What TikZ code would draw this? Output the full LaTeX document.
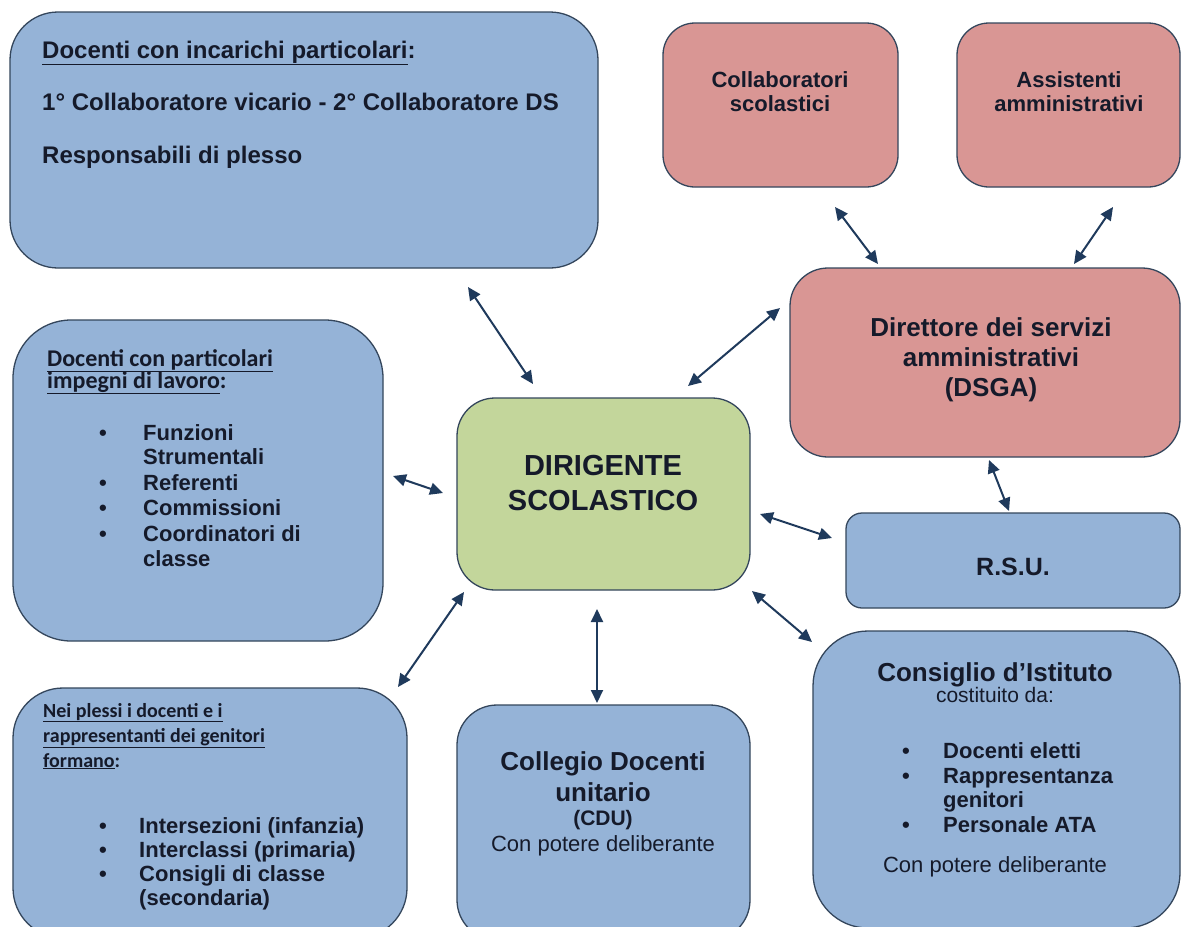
\documentclass[tikz,border=0pt]{standalone}
\usepackage{fontspec}
\setmainfont{Liberation Sans}
\newfontfamily\calib{Carlito}
\usetikzlibrary{arrows.meta}
\definecolor{bluefill}{HTML}{95B3D7}
\definecolor{pinkfill}{HTML}{D99694}
\definecolor{greenfill}{HTML}{C3D69B}
\definecolor{boxline}{HTML}{34465C}
\definecolor{arrowcol}{HTML}{1F3A5C}
\definecolor{txtcol}{HTML}{151A2A}
\newcommand\fs[1]{\fontsize{#1}{#1}\selectfont}
\tikzset{
  box/.style={draw=boxline, line width=1.3pt, anchor=north west, inner sep=0pt, outer sep=0pt},
  bluebox/.style={box, fill=bluefill},
  pinkbox/.style={box, fill=pinkfill},
  greenbox/.style={box, fill=greenfill},
  txt/.style={inner sep=0pt, anchor=base west, text=txtcol},
  ctxt/.style={inner sep=0pt, anchor=base, text=txtcol},
  link/.style={draw=arrowcol, line width=2pt,
    {Triangle[length=13pt,width=12pt]}-{Triangle[length=13pt,width=12pt]}}
}
\begin{document}
\begin{tikzpicture}[x=1pt,y=-1pt]
\useasboundingbox (0,0) rectangle (1182,926);
\clip (0,0) rectangle (1182,926);
\fill[white] (0,0) rectangle (1182,926);

% boxes
\node[bluebox, rounded corners=48pt, minimum width=588pt, minimum height=256pt] (b1) at (10,12) {};
\node[pinkbox, rounded corners=32pt, minimum width=235pt, minimum height=164pt] (coll) at (663,23) {};
\node[pinkbox, rounded corners=32pt, minimum width=223pt, minimum height=164pt] (assi) at (957,23) {};
\node[pinkbox, rounded corners=38pt, minimum width=390pt, minimum height=189pt] (dsga) at (790,268) {};
\node[bluebox, rounded corners=58pt, minimum width=370pt, minimum height=321pt] (dpart) at (13,320) {};
\node[greenbox, rounded corners=38pt, minimum width=293pt, minimum height=192pt] (dir) at (457,398) {};
\node[bluebox, rounded corners=16pt, minimum width=334pt, minimum height=95pt] (rsu) at (846,513) {};
\node[bluebox, rounded corners=50pt, minimum width=394pt, minimum height=250pt] (plessi) at (13,688) {};
\node[bluebox, rounded corners=40pt, minimum width=293pt, minimum height=235pt] (cdu) at (457,705) {};
\node[bluebox, rounded corners=55pt, minimum width=367pt, minimum height=297pt] (cdi) at (813,631) {};

% top-left box texts
\node[txt, font=\bfseries\fs{24}] (b1t1) at (42,58) {\underline{Docenti con incarichi particolari}:};
\node[txt, font=\bfseries\fs{24}] (b1t2) at (42,110) {1° Collaboratore vicario - 2° Collaboratore DS};
\node[txt, font=\bfseries\fs{24}] (b1t3) at (42,163) {Responsabili di plesso};

% pink boxes texts
\node[ctxt, font=\bfseries\fs{22}] (collt1) at (780,87) {Collaboratori};
\node[ctxt, font=\bfseries\fs{22}] (collt2) at (780,111) {scolastici};
\node[ctxt, font=\bfseries\fs{22}] (assit1) at (1069,87) {Assistenti};
\node[ctxt, font=\bfseries\fs{22}] (assit2) at (1069,111) {amministrativi};
\node[ctxt, font=\bfseries\fs{26}] (dsgat1) at (991,336) {Direttore dei servizi};
\node[ctxt, font=\bfseries\fs{26}] (dsgat2) at (991,366) {amministrativi};
\node[ctxt, font=\bfseries\fs{26}] (dsgat3) at (991,396) {(DSGA)};

% dirigente
\node[ctxt, font=\bfseries\fs{29}] (dirt1) at (603,475) {DIRIGENTE};
\node[ctxt, font=\bfseries\fs{29}] (dirt2) at (603,510) {SCOLASTICO};

% RSU
\node[ctxt, font=\bfseries\fs{25}] (rsut) at (1013,575) {R.S.U.};

% docenti con particolari impegni
\node[txt, font=\calib\bfseries\fs{24}] (dph1) at (47,366) {\underline{Docenti con particolari}};
\node[txt, font=\calib\bfseries\fs{24}] (dph2) at (47,388) {\underline{impegni di lavoro}:};
\foreach \s/\y [count=\i] in {Funzioni/440, Strumentali/464, Referenti/490, Commissioni/515, Coordinatori di/541, classe/566}
  \node[txt, font=\bfseries\fs{22}] (dpl\i) at (143,\y) {\s};
\foreach \y [count=\i] in {440,490,515,541}
  \node[txt, font=\bfseries\fs{22}] (dpb\i) at (99,\y) {•};

% nei plessi
\node[txt, font=\calib\bfseries\fs{20}] (plh1) at (43,717) {\underline{Nei plessi i docenti e i}};
\node[txt, font=\calib\bfseries\fs{20}] (plh2) at (43,742) {\underline{rappresentanti dei genitori}};
\node[txt, font=\calib\bfseries\fs{20}] (plh3) at (43,767) {\underline{formano}:};
\foreach \s/\y [count=\i] in {Intersezioni (infanzia)/833, Interclassi (primaria)/857, Consigli di classe/881, (secondaria)/905}
  \node[txt, font=\bfseries\fs{22}] (pll\i) at (139,\y) {\s};
\foreach \y [count=\i] in {833,857,881}
  \node[txt, font=\bfseries\fs{22}] (plb\i) at (99,\y) {•};

% collegio docenti
\node[ctxt, font=\bfseries\fs{26}] (cdut1) at (603,770) {Collegio Docenti};
\node[ctxt, font=\bfseries\fs{26}] (cdut2) at (603,801) {unitario};
\node[ctxt, font=\bfseries\fs{21}] (cdut3) at (603,825) {(CDU)};
\node[ctxt, font=\fs{22}] (cdut4) at (603,851) {Con potere deliberante};

% consiglio d'istituto
\node[ctxt, font=\bfseries\fs{26}] (cdit1) at (995,681) {Consiglio d’Istituto};
\node[ctxt, font=\fs{21}] (cdit2) at (995,702) {costituito da:};
\foreach \s/\y [count=\i] in {Docenti eletti/758, Rappresentanza/783, genitori/807, Personale ATA/832}
  \node[txt, font=\bfseries\fs{22}] (cdil\i) at (943,\y) {\s};
\foreach \y [count=\i] in {758,783,832}
  \node[txt, font=\bfseries\fs{22}] (cdib\i) at (902,\y) {•};
\node[ctxt, font=\fs{22}] (cdit3) at (995,872) {Con potere deliberante};

% connector end points
\coordinate (a1s) at (468,287); \coordinate (a1e) at (533,384);
\coordinate (a2s) at (688,386); \coordinate (a2e) at (780,308);
\coordinate (a3s) at (835,207); \coordinate (a3e) at (878,264);
\coordinate (a4s) at (1113,207); \coordinate (a4e) at (1074,264);
\coordinate (a5s) at (989,460); \coordinate (a5e) at (1009,511);
\coordinate (a6s) at (393,476); \coordinate (a6e) at (443,493);
\coordinate (a7s) at (760,514); \coordinate (a7e) at (832,538);
\coordinate (a8s) at (464,592); \coordinate (a8e) at (398,687);
\coordinate (a9s) at (597,609); \coordinate (a9e) at (597,703);
\coordinate (a10s) at (752,591); \coordinate (a10e) at (812,642);

\draw[link] (a1s) -- (a1e);
\draw[link] (a2s) -- (a2e);
\draw[link] (a3s) -- (a3e);
\draw[link] (a4s) -- (a4e);
\draw[link] (a5s) -- (a5e);
\draw[link] (a6s) -- (a6e);
\draw[link] (a7s) -- (a7e);
\draw[link] (a8s) -- (a8e);
\draw[link] (a9s) -- (a9e);
\draw[link] (a10s) -- (a10e);
\end{tikzpicture}
\end{document}
